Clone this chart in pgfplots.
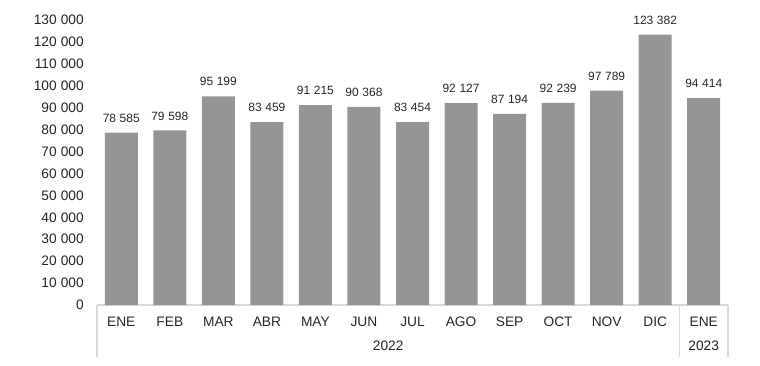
\documentclass[border=0pt]{standalone}
\usepackage{pgfplots}
\pgfplotsset{compat=1.18}
\usepackage{fontspec}
\setmainfont{Liberation Sans}
\definecolor{barc}{HTML}{959595}
\definecolor{linec}{HTML}{D9D9D9}
\definecolor{txt}{HTML}{262626}
\begin{document}
\begin{tikzpicture}
\begin{axis}[
  name=ax, at={(0,0)}, anchor=south west,
  scale only axis, width=473.25pt, height=213.75pt,
  xmin=-0.5, xmax=12.5, ymin=0, ymax=130000,
  axis x line*=bottom, axis y line*=left,
  x axis line style={-, draw=linec, line width=0.8pt},
  y axis line style={draw=none},
  major tick length=0pt,
  xtick={0,...,12},
  xticklabels={ENE,FEB,MAR,ABR,MAY,JUN,JUL,AGO,SEP,OCT,NOV,DIC,ENE},
  xticklabel style={anchor=center, yshift=-12.75pt, font=\fontsize{10.3}{12}\selectfont, text=txt},
  ytick={0,10000,...,130000},
  yticklabel style={anchor=east, inner sep=0pt, xshift=-9.75pt, font=\fontsize{10.3}{12}\selectfont, text=txt},
  scaled y ticks=false,
  /pgf/number format/assume math mode=true,
  /pgf/number format/.cd, fixed, precision=0, 1000 sep={\hspace{0.3em}}, /pgfplots/.cd,
  ybar, bar width=24.75pt,
  nodes near coords,
  nodes near coords style={font=\fontsize{9}{11}\selectfont, text=txt, anchor=south, inner sep=0pt, yshift=7.5pt,
    /pgf/number format/.cd, fixed, precision=0, 1000 sep={\hspace{0.3em}}, assume math mode=true},
  clip=false,
]
\addplot[fill=barc, draw=none] coordinates {
(0,78585) (1,79598) (2,95199) (3,83459) (4,91215) (5,90368) (6,83454)
(7,92127) (8,87194) (9,92239) (10,97789) (11,123382) (12,94414)};
\draw[linec, line width=0.8pt] (axis cs:-0.5,0) -- ([yshift=-39pt]axis cs:-0.5,0);
\draw[linec, line width=0.8pt] (axis cs:11.5,0) -- ([yshift=-39pt]axis cs:11.5,0);
\draw[linec, line width=0.8pt] (axis cs:12.5,0) -- ([yshift=-39pt]axis cs:12.5,0);
\node[text=txt, font=\fontsize{10.3}{12}\selectfont] at ([yshift=-30.75pt]axis cs:5.5,0) {2022};
\node[text=txt, font=\fontsize{10.3}{12}\selectfont] at ([yshift=-30.75pt]axis cs:12,0) {2023};
\end{axis}
\pgfresetboundingbox
\path[use as bounding box] (-72.75pt,-45pt) rectangle (497.25pt,228.75pt);
\end{tikzpicture}
\end{document}
